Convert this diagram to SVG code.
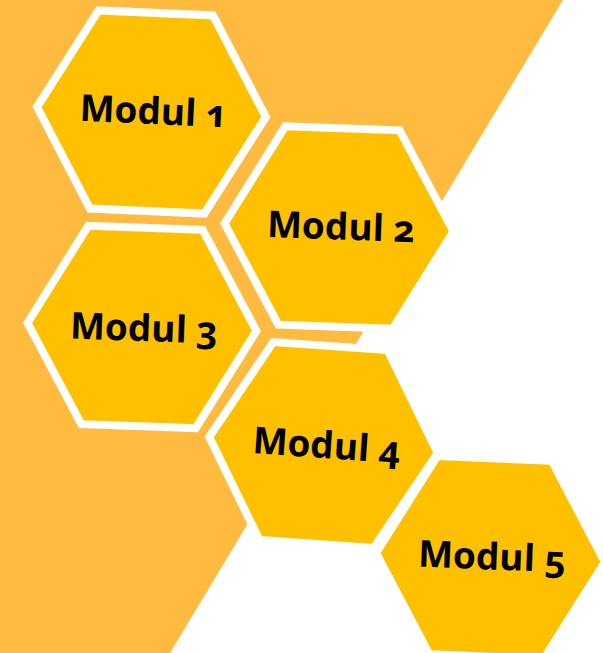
<svg xmlns="http://www.w3.org/2000/svg" width="603" height="653" viewBox="0 0 603 653">
<defs>
<style>
.hex{fill:#FFC000;stroke:#FFFFFF;stroke-width:8;stroke-linejoin:miter}
.lbl{font-family:"Open Sans","Noto Sans","Liberation Sans",sans-serif;font-weight:700;font-size:37px;fill:#000;text-anchor:middle;font-variant-numeric:oldstyle-nums;font-feature-settings:"onum" 1}
</style>
<polygon id="hexshape" points="-114.5,0 -57.25,-99.2 57.25,-99.2 114.5,0 57.25,99.2 -57.25,99.2"/>
</defs>
<rect width="603" height="653" fill="#FFFFFF"/>
<polygon id="band" points="0,0 563,0 170,653 0,653" fill="#FFBA40"/>
<g id="connectors"/>
<g id="modul1" transform="translate(151.5,112) rotate(2.5)">
<use href="#hexshape" class="hex"/>
<text class="lbl" x="2" y="12">Modul 1</text>
</g>
<g id="modul2" transform="translate(339,227.5) rotate(2)">
<use href="#hexshape" class="hex"/>
<text class="lbl" x="2" y="12">Modul 2</text>
</g>
<g id="modul3" transform="translate(142,327) rotate(2)">
<use href="#hexshape" class="hex"/>
<text class="lbl" x="2" y="14">Modul 3</text>
</g>
<g id="modul4" transform="translate(323.5,445) rotate(4)">
<use href="#hexshape" class="hex"/>
<text class="lbl" x="3" y="13">Modul 4</text>
</g>
<g id="modul5" transform="translate(490.5,557.5) rotate(2.3)">
<use href="#hexshape" class="hex"/>
<text class="lbl" x="1.5" y="12">Modul 5</text>
</g>
</svg>
